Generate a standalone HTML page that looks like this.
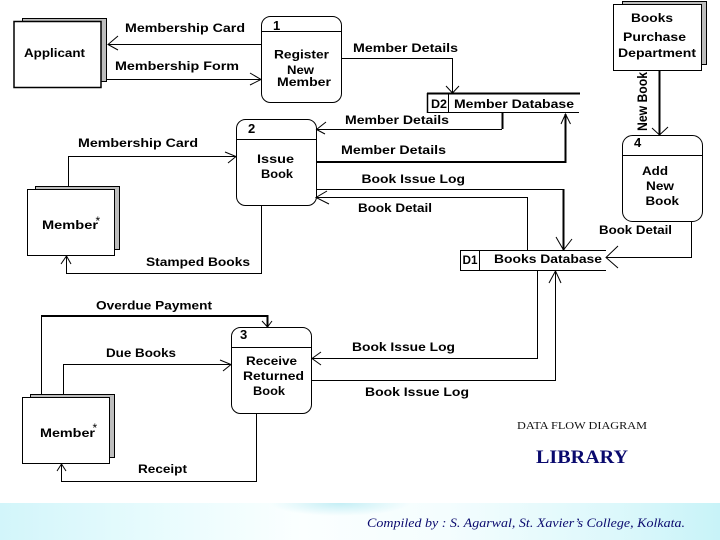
<!DOCTYPE html>
<html><head><meta charset="utf-8"><style>
html,body{margin:0;padding:0;background:#fff;width:720px;height:540px;overflow:hidden}
svg{display:block}
.t{font-family:"Liberation Sans",sans-serif;font-weight:bold;font-size:12px;fill:#000}
.s{font-family:"Liberation Serif",serif}
</style></head><body>
<svg width="720" height="540" viewBox="0 0 720 540" xmlns="http://www.w3.org/2000/svg">
<defs>
<linearGradient id="b" x1="0" x2="1" y1="0" y2="0">
<stop offset="0" stop-color="#d2f5fa"/><stop offset=".2" stop-color="#e6fbfd"/><stop offset=".42" stop-color="#fbffff"/><stop offset=".62" stop-color="#f4fdfe"/><stop offset=".85" stop-color="#ddf8fb"/><stop offset="1" stop-color="#c8f3f8"/>
</linearGradient>
<radialGradient id="g"><stop offset="0" stop-color="#c4eef5"/><stop offset="1" stop-color="#c4eef5" stop-opacity="0"/></radialGradient>
</defs>
<rect width="720" height="540" fill="#fff"/>
<rect y="503" width="720" height="37" fill="url(#b)"/>
<ellipse cx="340" cy="503" rx="70" ry="13" fill="url(#g)"/>
<rect y="480" width="720" height="23" fill="#fff"/>

<g fill="#bdbdbd" stroke="#000" stroke-width="1">
<rect x="22.5" y="18.5" width="84" height="63"/>
<rect x="35.5" y="186.5" width="84" height="63"/>
<rect x="622.5" y="1.5" width="84" height="63"/>
<rect x="30.5" y="394.5" width="84" height="63"/>
</g>
<g fill="#fff" stroke="#000">
<rect x="14" y="21.5" width="87" height="66" stroke-width="1.5"/>
<rect x="27.5" y="189.5" width="87" height="66"/>
<rect x="613.5" y="4.5" width="88" height="66"/>
<rect x="22.5" y="397.5" width="87" height="66"/>
<rect x="261.5" y="16.5" width="80" height="86" rx="9"/>
<rect x="236.5" y="119.5" width="80" height="86" rx="9"/>
<rect x="622.5" y="135.5" width="80" height="86" rx="10"/>
<rect x="231.5" y="327.5" width="80" height="86" rx="9"/>
</g>
<g fill="none" stroke="#000" stroke-width="1">
<path d="M262 31.5H341M237 139.5H316M623 155.5H702M232 347.5H311"/>
<path d="M262 44.5H108M107 79.5H261"/>
<path d="M342 58.5H452.5V93"/>
<path d="M68.5 186V156.5H236"/>
<path d="M261.5 206V273.5H66.5V256"/>
<path d="M316 129.5H502"/>
<path d="M316 189.5H563"/>
<path d="M316 197.5H527.5V250"/>
<path d="M691.5 222V257.5H606"/>
<path d="M41.5 395V316"/>
<path d="M63.5 394V364.5H231"/>
<path d="M256.5 414V481.5H61.5V464"/>
<path d="M312 358.5H537.5V271"/>
<path d="M312 380.5H555.5V271"/>
<!-- D2 -->
<path d="M427.5 94V112.5H579M448.5 94V112"/>
<!-- D1 -->
<path d="M460.5 250V270.5H606M479.5 250V270M460 250.5H606"/>
<!-- arrowheads -->
<path d="M118 36L108 44.5L118 50"/>
<path d="M250 73L261 79.5L250 85"/>
<path d="M446 86L452.5 93L459 86"/>
<path d="M225 152L236 156.5L228 163"/>
<path d="M61 264L66.5 256L71 264"/>
<path d="M326 122L316.5 129.5L325 134"/>
<path d="M327 191L316 197.5L329 204"/>
<path d="M561 124L565.5 114L570.5 124"/>
<path d="M556 237L563.5 250L572 239"/>
<path d="M618 246L606 257.5L618 268"/>
<path d="M652 128L659.5 135L668 127"/>
<path d="M262 321L267.5 327L272 321"/>
<path d="M220 360L231 364.5L223 371"/>
<path d="M321 352L312 358.5L321 365"/>
<path d="M57 471L61.5 464L66 471"/>
<path d="M549 283L555.5 271L561 283"/>
</g>
<g fill="none" stroke="#000" stroke-width="2">
<path d="M427 93.5H580"/>
<path d="M502.5 113V129"/>
<path d="M316 162H565.5V114"/>
<path d="M563.5 189V250"/>
<path d="M659.5 71V135"/>
<path d="M41 316H267.5V327"/>
</g>
<path d="M427.5 93V113" stroke="#000" stroke-width="1.5"/>

<g class="t">
<text x="125" y="32" textLength="120" lengthAdjust="spacingAndGlyphs">Membership Card</text>
<text x="115" y="70" textLength="124" lengthAdjust="spacingAndGlyphs">Membership Form</text>
<text x="24" y="57" textLength="61" lengthAdjust="spacingAndGlyphs">Applicant</text>
<text x="273" y="30" style="font-size:13px">1</text>
<text x="274" y="58.5" textLength="55" lengthAdjust="spacingAndGlyphs">Register</text>
<text x="287" y="74" textLength="27" lengthAdjust="spacingAndGlyphs">New</text>
<text x="277" y="86" textLength="54" lengthAdjust="spacingAndGlyphs">Member</text>
<text x="353" y="52" textLength="105" lengthAdjust="spacingAndGlyphs">Member Details</text>
<text x="431" y="108" textLength="16" lengthAdjust="spacingAndGlyphs">D2</text>
<text x="454" y="108" textLength="120" lengthAdjust="spacingAndGlyphs">Member Database</text>
<text x="345" y="124" textLength="104" lengthAdjust="spacingAndGlyphs">Member Details</text>
<text x="341" y="154" textLength="105" lengthAdjust="spacingAndGlyphs">Member Details</text>
<text x="361.5" y="183" textLength="103.5" lengthAdjust="spacingAndGlyphs">Book Issue Log</text>
<text x="358" y="212" textLength="74" lengthAdjust="spacingAndGlyphs">Book Detail</text>
<text x="78" y="147" textLength="120" lengthAdjust="spacingAndGlyphs">Membership Card</text>
<text x="248" y="133" style="font-size:13px">2</text>
<text x="257" y="163" textLength="37" lengthAdjust="spacingAndGlyphs">Issue</text>
<text x="261" y="178" textLength="32" lengthAdjust="spacingAndGlyphs">Book</text>
<text x="42" y="229" textLength="56" lengthAdjust="spacingAndGlyphs">Member</text>
<text x="95.5" y="225" style="font-size:12px;font-weight:normal">*</text>
<text x="146" y="266" textLength="104" lengthAdjust="spacingAndGlyphs">Stamped Books</text>
<text x="631" y="22" textLength="42" lengthAdjust="spacingAndGlyphs">Books</text>
<text x="623" y="41" textLength="63" lengthAdjust="spacingAndGlyphs">Purchase</text>
<text x="618" y="57" textLength="78" lengthAdjust="spacingAndGlyphs">Department</text>
<text transform="translate(647 131) rotate(-90)" style="font-size:14px" textLength="59" lengthAdjust="spacingAndGlyphs">New Book</text>
<text x="634" y="147" style="font-size:13px">4</text>
<text x="642" y="175" textLength="26" lengthAdjust="spacingAndGlyphs">Add</text>
<text x="646" y="190" textLength="28" lengthAdjust="spacingAndGlyphs">New</text>
<text x="645.5" y="205" textLength="33.5" lengthAdjust="spacingAndGlyphs">Book</text>
<text x="599" y="234" textLength="73" lengthAdjust="spacingAndGlyphs">Book Detail</text>
<text x="462.5" y="264" textLength="15" lengthAdjust="spacingAndGlyphs">D1</text>
<text x="494" y="263" textLength="108" lengthAdjust="spacingAndGlyphs">Books Database</text>
<text x="96" y="309.5" textLength="116" lengthAdjust="spacingAndGlyphs">Overdue Payment</text>
<text x="106" y="357" textLength="70" lengthAdjust="spacingAndGlyphs">Due Books</text>
<text x="240" y="339" style="font-size:13px">3</text>
<text x="246" y="365" textLength="51" lengthAdjust="spacingAndGlyphs">Receive</text>
<text x="243" y="380" textLength="61" lengthAdjust="spacingAndGlyphs">Returned</text>
<text x="253" y="395" textLength="32" lengthAdjust="spacingAndGlyphs">Book</text>
<text x="40" y="437" textLength="55" lengthAdjust="spacingAndGlyphs">Member</text>
<text x="92.5" y="432" style="font-size:12px;font-weight:normal">*</text>
<text x="138" y="473" textLength="49" lengthAdjust="spacingAndGlyphs">Receipt</text>
<text x="352" y="351" textLength="103" lengthAdjust="spacingAndGlyphs">Book Issue Log</text>
<text x="365" y="396" textLength="104" lengthAdjust="spacingAndGlyphs">Book Issue Log</text>
</g>
<text class="s" x="517" y="429" font-size="11" fill="#111" textLength="130" lengthAdjust="spacingAndGlyphs">DATA FLOW DIAGRAM</text>
<text class="s" x="536" y="463" font-size="19" font-weight="bold" fill="#0a0a6e" textLength="92" lengthAdjust="spacingAndGlyphs">LIBRARY</text>
<text class="s" x="367" y="527" font-size="13" font-style="italic" fill="#0a0a6e" textLength="318" lengthAdjust="spacingAndGlyphs">Compiled by : S. Agarwal, St. Xavier’s College, Kolkata.</text>
</svg>
</body></html>
